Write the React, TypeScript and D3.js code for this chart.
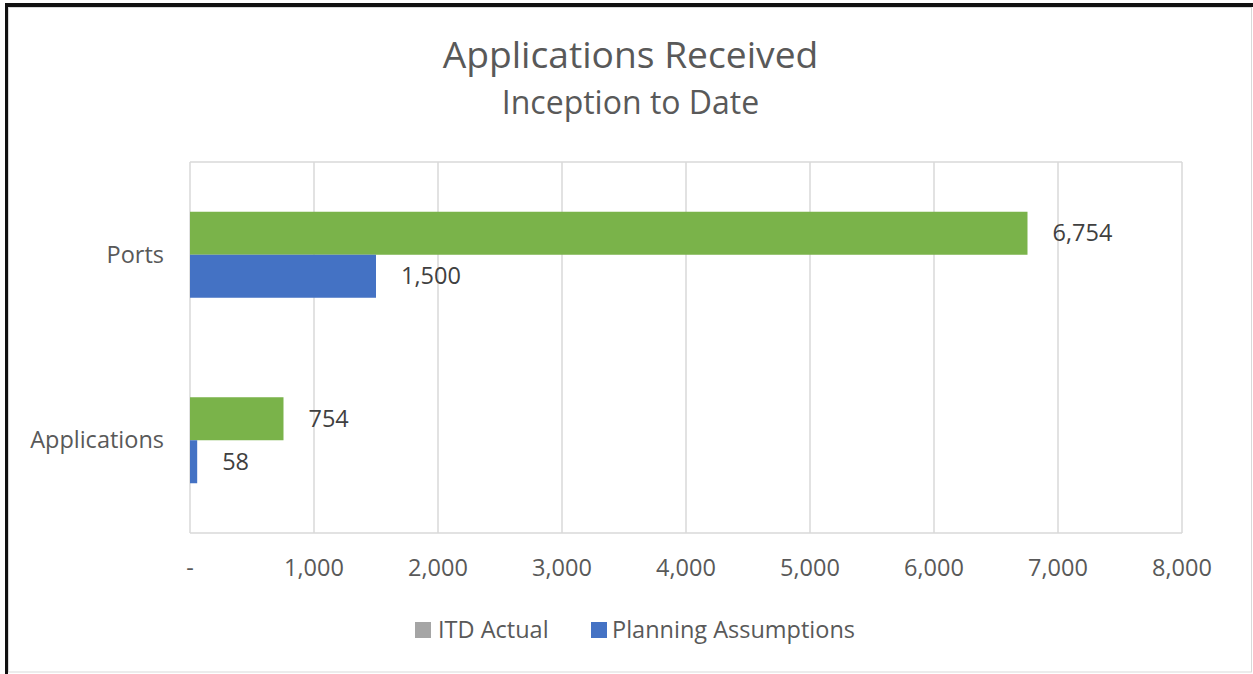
import React from "react";
import * as d3 from "d3";

const categories = ["Ports", "Applications"];
const seriesNames = ["ITD Actual", "Planning Assumptions"];
const itdActual = [6754, 754];
const planningAssumptions = [1500, 58];
const xTicks = [0, 1000, 2000, 3000, 4000, 5000, 6000, 7000, 8000];
const legendColors = ["#A5A5A5", "#4472C4"];
const barColors = ["#7AB34A", "#4472C4"];

const W = 1253;
const H = 674;
const FONT = "'Open Sans', sans-serif";
const TXT = "#595959";

export default function App() {
  const left = 190, right = 1182, top = 162, bottom = 533;
  const x = d3.scaleLinear().domain([0, 8000]).range([left, right]);
  const p = (185.5 - 86) / 185.5;
  const y = d3.scaleBand<string>().domain(categories).range([top, bottom]).paddingInner(p).paddingOuter(p / 2);
  const ys = d3.scaleBand<string>().domain(seriesNames).range([0, y.bandwidth()]).padding(0);
  const fmt = d3.format(",");
  const values = [itdActual, planningAssumptions];

  return (
    <svg width={W} height={H} style={{ position: "absolute", left: 0, top: 0, background: "#fff" }} fontFamily={FONT}>
      <rect x={0} y={0} width={W} height={H} fill="#fff" />
      {/* frame */}
      <rect x={8.5} y={7.5} width={1243} height={664.5} fill="none" stroke="#D9D9D9" strokeWidth={1} />
      <rect x={5} y={3} width={W - 5} height={4} fill="#111" />
      <rect x={5} y={3} width={3} height={H - 3} fill="#111" />

      {/* title */}
      <text x={630.5} y={68} textAnchor="middle" fontSize={37.2} fill={TXT}>Applications Received</text>
      <text x={630.5} y={114} textAnchor="middle" fontSize={32} fill={TXT}>Inception to Date</text>

      {/* gridlines */}
      {xTicks.map((t) => (
        <line key={t} x1={x(t)} x2={x(t)} y1={top} y2={bottom} stroke="#D9D9D9" strokeWidth={1.5} />
      ))}
      <line x1={left} x2={right} y1={top} y2={top} stroke="#D9D9D9" strokeWidth={1.5} />
      <line x1={left} x2={right} y1={bottom} y2={bottom} stroke="#D9D9D9" strokeWidth={1.5} />

      {/* bars */}
      {categories.map((c, ci) =>
        seriesNames.map((s, si) => {
          const v = values[si][ci];
          const by = (y(c) as number) + (ys(s) as number);
          const bh = ys.bandwidth();
          return (
            <g key={c + s}>
              <rect x={x(0)} y={by} width={x(v) - x(0)} height={bh} fill={barColors[si]} />
              <text x={x(v) + 25} y={by + bh / 2} dy="0.35em" fontSize={23.5} fill="#404040">{fmt(v)}</text>
            </g>
          );
        })
      )}

      {/* category labels */}
      {categories.map((c) => (
        <text key={c} x={164} y={(y(c) as number) + y.bandwidth() / 2} dy="0.35em" textAnchor="end" fontSize={23.5} fill={TXT}>{c}</text>
      ))}

      {/* x tick labels */}
      {xTicks.map((t) => (
        <text key={t} x={x(t)} y={568} dy="0.35em" textAnchor="middle" fontSize={23.5} fill={TXT}>{t === 0 ? "-" : fmt(t)}</text>
      ))}

      {/* legend */}
      <rect x={415} y={622} width={16} height={16} fill={legendColors[0]} />
      <text x={438} y={630} dy="0.35em" fontSize={23.5} fill={TXT}>{seriesNames[0]}</text>
      <rect x={591} y={622} width={16} height={16} fill={legendColors[1]} />
      <text x={612} y={630} dy="0.35em" fontSize={23.5} fill={TXT}>{seriesNames[1]}</text>
    </svg>
  );
}
